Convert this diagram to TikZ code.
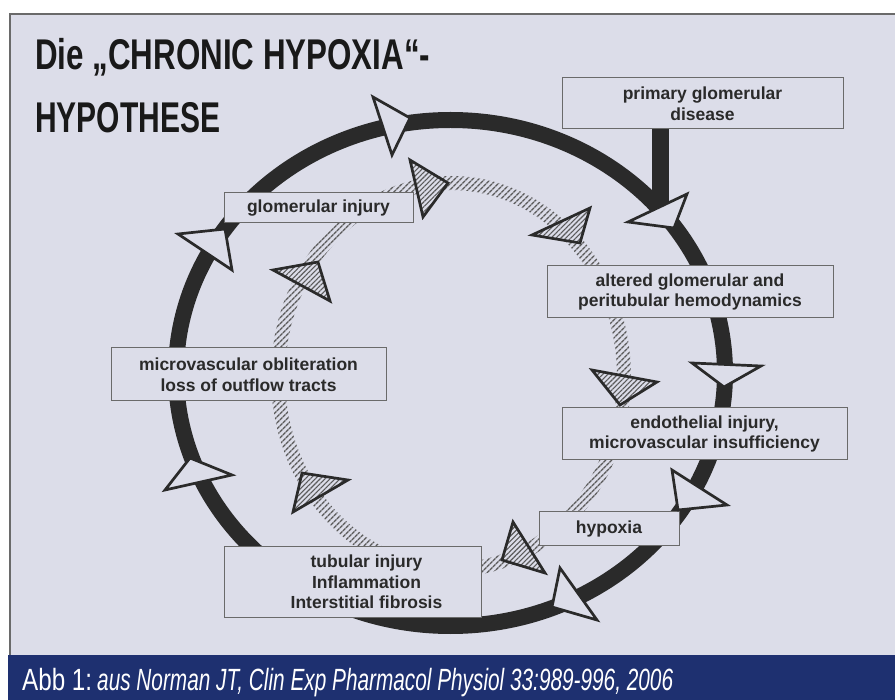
\documentclass[tikz,border=0pt]{standalone}
\usepackage{graphicx}
\usepackage{fontspec}
\setmainfont{Liberation Sans}
\usetikzlibrary{patterns.meta}

\definecolor{bgcol}{HTML}{DCDDE9}
\definecolor{navy}{HTML}{1E3070}
\definecolor{inkcol}{HTML}{2A2A2A}
\definecolor{framecol}{HTML}{6A6A6A}
\definecolor{hatchcol}{HTML}{5A5A5A}
\definecolor{txtcol}{HTML}{2A2A2A}

\begin{document}
\begin{tikzpicture}[
  x=1pt, y=-1pt,
  box/.style={draw=framecol, line width=1, fill=bgcol, inner sep=0, align=center,
    text=txtcol, font=\fontsize{17.5}{20.5}\selectfont\bfseries},
  wtri/.style={fill=bgcol, draw=inkcol, line width=2.7, line join=miter},
  htri/.style={preaction={fill=bgcol}, pattern={Lines[angle=45,distance=3.5pt,line width=1.1pt]},
    pattern color=hatchcol, draw=inkcol, line width=2.7, line join=miter},
]
\useasboundingbox (0,0) rectangle (895,700);
\fill[white] (0,0) rectangle (895,700);
\fill[bgcol] (10,14) rectangle (895,655);
\draw[framecol, line width=1.2] (895,14) -- (10,14) -- (10,655);
\fill[navy] (8,655) rectangle (895,700);

% the two cycles
\draw[line width=16, inkcol] (450.5,373) ellipse [x radius=274.5, y radius=253];
\fill[pattern={Lines[angle=45,distance=4pt,line width=1.4pt]}, pattern color=hatchcol, even odd rule]
  (451,376.5) ellipse [x radius=180, y radius=200.5]
  (451,376.5) ellipse [x radius=166, y radius=186.5];

% boxes
\node[box, minimum width=281, minimum height=51] (prim) at (702.5,103.5) {primary glomerular\\disease};
\node[box, minimum width=286, minimum height=52] (alter) at (690,292) {altered glomerular and\\peritubular hemodynamics};
\node[box, minimum width=285, minimum height=52] (endo) at (704.5,434) {endothelial injury,\\microvascular insufficiency};
\node[box, minimum width=140, minimum height=34] (hypo) at (609,529) {hypoxia};
\node[box, minimum width=257, minimum height=70] (tubu) at (352.5,582) {\hspace{28pt}tubular injury\\\hspace{28pt}Inflammation\\\hspace{28pt}Interstitial fibrosis};
\node[box, minimum width=275, minimum height=53] (micro) at (248.5,374.5) {microvascular obliteration\\loss of outflow tracts};
\node[box, minimum width=189, minimum height=30] (glom) at (318.5,208) {glomerular injury};

\coordinate (join) at (660,214);
\draw[line width=17, inkcol] (prim.south -| join) -- (join);

% outer arrows
\draw[wtri] (373,97) -- (410,118) -- (392,155) -- cycle;
\draw[wtri] (628,222) -- (687,194) -- (674,228) -- cycle;
\draw[wtri] (692,363) -- (761,366) -- (724,387) -- cycle;
\draw[wtri] (672,470) -- (727,505) -- (678,510) -- cycle;
\draw[wtri] (560,568) -- (597,620) -- (552,607) -- cycle;
\draw[wtri] (165,490) -- (190,458) -- (232,475) -- cycle;
\draw[wtri] (178,234) -- (225,229) -- (232,270) -- cycle;

% inner arrows
\draw[htri] (410,160) -- (448,183) -- (423,217) -- cycle;
\draw[htri] (532,235) -- (590,208) -- (580,243) -- cycle;
\draw[htri] (592,370) -- (657,382) -- (620,405) -- cycle;
\draw[htri] (513,522) -- (545,573) -- (502,560) -- cycle;
\draw[htri] (293,512) -- (302,473) -- (348,480) -- cycle;
\draw[htri] (273,270) -- (318,262) -- (330,301) -- cycle;

% title and caption
\node[anchor=base west, inner sep=0, text=black!90, font=\fontsize{43}{43}\selectfont\bfseries] (title1) at (35,70)
  {\resizebox{395pt}{\height}{Die „CHRONIC HYPOXIA“-}};
\node[anchor=base west, inner sep=0, text=black!90, font=\fontsize{43}{43}\selectfont\bfseries] (title2) at (35,133)
  {\resizebox{185pt}{\height}{HYPOTHESE}};
\node[anchor=base west, inner sep=0, text=white, font=\fontsize{30.7}{30}\selectfont] (abb) at (22,690)
  {\resizebox{70pt}{\height}{Abb 1:}};
\node[anchor=base west, inner sep=0, text=white, font=\fontsize{30.7}{30}\selectfont\itshape] (src) at (97,690)
  {\resizebox{576pt}{\height}{aus Norman JT, Clin Exp Pharmacol Physiol 33:989-996, 2006}};
\end{tikzpicture}
\end{document}
